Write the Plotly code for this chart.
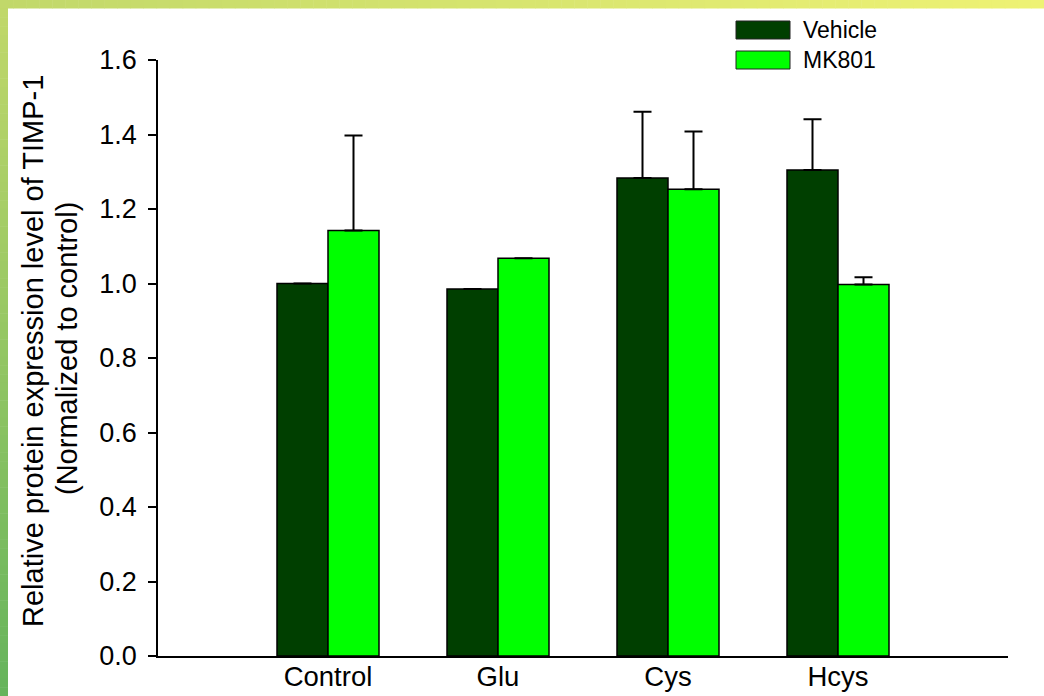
import plotly.graph_objects as go

# Data
categories = ["Control", "Glu", "Cys", "Hcys"]
vehicle = [1.00, 0.985, 1.283, 1.305]
vehicle_err = [None, None, 0.178, 0.136]
mk801 = [1.142, 1.068, 1.253, 0.997]
mk801_err = [0.255, None, 0.155, 0.02]
y_ticks = [0.0, 0.2, 0.4, 0.6, 0.8, 1.0, 1.2, 1.4, 1.6]

W, H = 1044, 696
ML, MR, MT, MB = 158, 36, 60, 40
PW, PH = W - ML - MR, H - MT - MB
FONT = "Liberation Sans, Arial"

def px(x):
    return (x - ML) / PW

def py(y):
    return (H - MB - y) / PH

DARK = "#003f00"
LIGHT = "#00ff00"

fig = go.Figure()
for name, vals, errs, col in [("Vehicle", vehicle, vehicle_err, DARK),
                              ("MK801", mk801, mk801_err, LIGHT)]:
    fig.add_trace(go.Bar(
        x=list(range(len(categories))), y=vals, name=name,
        marker=dict(color=col, line=dict(color="black", width=1.5)),
        error_y=dict(type="data", array=errs, arrayminus=[0] * len(errs),
                     symmetric=False, color="black", thickness=2, width=9),
        showlegend=False,
    ))

shapes = []
# Decorative frame: gradient strip on top and on the left
n = 80
def mix(c1, c2, t):
    return "rgb({},{},{})".format(*[round(a + (b - a) * t) for a, b in zip(c1, c2)])

top_l, top_r = (193, 216, 106), (238, 242, 116)
left_t, left_b = (193, 216, 106), (102, 180, 92)
for i in range(n):
    x0 = W * i / n
    x1 = W * (i + 1) / n + 0.5
    shapes.append(dict(type="rect", xref="paper", yref="paper",
                       x0=px(x0), x1=px(x1), y0=py(8.5), y1=py(0),
                       fillcolor=mix(top_l, top_r, i / (n - 1)), line_width=0, layer="above"))
for i in range(n):
    y0 = H * i / n
    y1 = H * (i + 1) / n + 0.5
    shapes.append(dict(type="rect", xref="paper", yref="paper",
                       x0=px(0), x1=px(8), y0=py(y1), y1=py(y0),
                       fillcolor=mix(left_t, left_b, i / (n - 1)), line_width=0, layer="above"))

# Legend boxes
annotations = []
for i, (name, col) in enumerate([("Vehicle", DARK), ("MK801", LIGHT)]):
    top = 21 + 30 * i
    shapes.append(dict(type="rect", xref="paper", yref="paper",
                       x0=px(736), x1=px(790), y0=py(top + 18), y1=py(top),
                       fillcolor=col, line=dict(color="#222", width=1)))
    annotations.append(dict(xref="paper", yref="paper", x=px(801), y=py(top + 9),
                            text=name, showarrow=False, xanchor="left", yanchor="middle",
                            font=dict(size=23, color="black", family=FONT)))

# Y-axis title (two lines)
annotations.append(dict(xref="paper", yref="paper", x=px(33), y=py(351),
                        text="Relative protein expression level of TIMP-1",
                        textangle=-90, showarrow=False, xanchor="center", yanchor="middle",
                        font=dict(size=29, color="black", family=FONT)))
annotations.append(dict(xref="paper", yref="paper", x=px(67), y=py(349),
                        text="(Normalized to control)",
                        textangle=-90, showarrow=False, xanchor="center", yanchor="middle",
                        font=dict(size=29, color="black", family=FONT)))

fig.update_layout(
    width=W, height=H,
    margin=dict(l=ML, r=MR, t=MT, b=MB, pad=0, autoexpand=False),
    paper_bgcolor="white", plot_bgcolor="white",
    barmode="group", bargap=0.4, bargroupgap=0,
    font=dict(family=FONT, size=27, color="black"),
    shapes=shapes, annotations=annotations,
    xaxis=dict(range=[-1, 4], tickvals=list(range(len(categories))), ticktext=categories,
               showline=True, linecolor="black", linewidth=2, ticks="", automargin=False,
               ticklabelstandoff=-5,
               showgrid=False, zeroline=False, tickfont=dict(size=27.5, family=FONT)),
    yaxis=dict(range=[0, 1.6], tickvals=y_ticks, ticktext=[f"{v:.1f}" for v in y_ticks],
               showline=True, linecolor="black", linewidth=1.5, ticks="outside",
               ticklen=8, tickwidth=1.5, tickcolor="black", ticklabelstandoff=6,
               automargin=False,
               showgrid=False, zeroline=False, tickfont=dict(size=27, family=FONT)),
)

fig.write_html("out.html")
